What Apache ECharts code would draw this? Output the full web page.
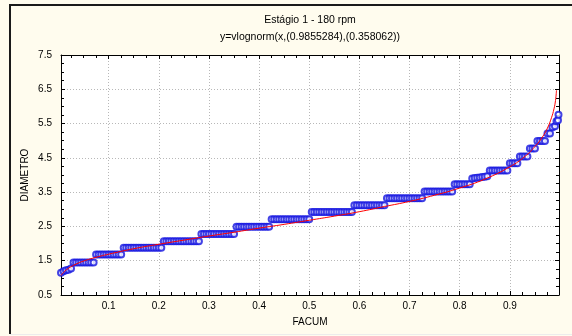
<!DOCTYPE html>
<html>
<head>
<meta charset="utf-8">
<script src="https://cdn.jsdelivr.net/npm/echarts@6/dist/echarts.min.js"></script>
<style>
  html, body { margin: 0; padding: 0; background: #fffcee; }
  #chart { width: 572px; height: 336px; }
</style>
</head>
<body>
<div id="chart"></div>
<script>
// Sorted particle diameters against cumulative frequency (FACUM)
const facum = [
  0.005, 0.010, 0.015, 0.020, 0.025,
  0.030, 0.035, 0.040, 0.045, 0.050, 0.055, 0.060, 0.065, 0.070,
  0.075, 0.080, 0.085, 0.090, 0.095, 0.100, 0.105, 0.110, 0.115, 0.120, 0.125,
  0.130, 0.135, 0.140, 0.145, 0.150, 0.155, 0.160, 0.165, 0.170, 0.175, 0.180, 0.185, 0.190, 0.195, 0.200, 0.205,
  0.210, 0.215, 0.220, 0.225, 0.230, 0.235, 0.240, 0.245, 0.250, 0.255, 0.260, 0.265, 0.270, 0.275, 0.280,
  0.285, 0.290, 0.295, 0.300, 0.305, 0.310, 0.315, 0.320, 0.325, 0.330, 0.335, 0.340, 0.345, 0.350,
  0.355, 0.360, 0.365, 0.370, 0.375, 0.380, 0.385, 0.390, 0.395, 0.400, 0.405, 0.410, 0.415, 0.420,
  0.425, 0.430, 0.435, 0.440, 0.445, 0.450, 0.455, 0.460, 0.465, 0.470, 0.475, 0.480, 0.485, 0.490, 0.495, 0.500,
  0.505, 0.510, 0.515, 0.520, 0.525, 0.530, 0.535, 0.540, 0.545, 0.550, 0.555, 0.560, 0.565, 0.570, 0.575, 0.580, 0.585,
  0.590, 0.595, 0.600, 0.605, 0.610, 0.615, 0.620, 0.625, 0.630, 0.635, 0.640, 0.645, 0.650,
  0.655, 0.660, 0.665, 0.670, 0.675, 0.680, 0.685, 0.690, 0.695, 0.700, 0.705, 0.710, 0.715, 0.720, 0.725,
  0.730, 0.735, 0.740, 0.745, 0.750, 0.755, 0.760, 0.765, 0.770, 0.775, 0.780, 0.785,
  0.790, 0.795, 0.800, 0.805, 0.810, 0.815, 0.820,
  0.825, 0.830, 0.835, 0.840, 0.845, 0.850, 0.855,
  0.860, 0.865, 0.870, 0.875, 0.880, 0.885, 0.890, 0.895,
  0.900, 0.905, 0.910, 0.915,
  0.920, 0.925, 0.930, 0.935,
  0.940, 0.945, 0.950,
  0.955, 0.960, 0.965, 0.970,
  0.975, 0.980,
  0.985, 0.990,
  0.993, 0.996, 0.997
];
const diametro = [
  1.15, 1.19, 1.22, 1.24, 1.27,
  1.45, 1.45, 1.45, 1.45, 1.45, 1.45, 1.45, 1.45, 1.45,
  1.68, 1.68, 1.68, 1.68, 1.68, 1.68, 1.68, 1.68, 1.68, 1.68, 1.68,
  1.88, 1.88, 1.88, 1.88, 1.88, 1.88, 1.88, 1.88, 1.88, 1.88, 1.88, 1.88, 1.88, 1.88, 1.88, 1.88,
  2.07, 2.07, 2.07, 2.07, 2.07, 2.07, 2.07, 2.07, 2.07, 2.07, 2.07, 2.07, 2.07, 2.07, 2.07,
  2.28, 2.28, 2.28, 2.28, 2.28, 2.28, 2.28, 2.28, 2.28, 2.28, 2.28, 2.28, 2.28, 2.28,
  2.49, 2.49, 2.49, 2.49, 2.49, 2.49, 2.49, 2.49, 2.49, 2.49, 2.49, 2.49, 2.49, 2.49,
  2.71, 2.71, 2.71, 2.71, 2.71, 2.71, 2.71, 2.71, 2.71, 2.71, 2.71, 2.71, 2.71, 2.71, 2.71, 2.71,
  2.92, 2.92, 2.92, 2.92, 2.92, 2.92, 2.92, 2.92, 2.92, 2.92, 2.92, 2.92, 2.92, 2.92, 2.92, 2.92, 2.92,
  3.12, 3.12, 3.12, 3.12, 3.12, 3.12, 3.12, 3.12, 3.12, 3.12, 3.12, 3.12, 3.12,
  3.32, 3.32, 3.32, 3.32, 3.32, 3.32, 3.32, 3.32, 3.32, 3.32, 3.32, 3.32, 3.32, 3.32, 3.32,
  3.52, 3.52, 3.52, 3.52, 3.52, 3.52, 3.52, 3.52, 3.52, 3.52, 3.52, 3.52,
  3.73, 3.73, 3.73, 3.73, 3.73, 3.73, 3.73,
  3.90, 3.91, 3.92, 3.93, 3.94, 3.95, 3.96,
  4.13, 4.13, 4.13, 4.13, 4.13, 4.13, 4.13, 4.13,
  4.34, 4.34, 4.34, 4.34,
  4.54, 4.54, 4.54, 4.54,
  4.77, 4.77, 4.77,
  4.99, 4.99, 4.99, 4.99,
  5.21, 5.21,
  5.39, 5.42,
  5.57, 5.60, 5.76
];

// Fitted lognormal quantile curve: y = vlognorm(x, 0.9855284, 0.358062)
const curveX = [0.005, 0.01, 0.02, 0.035, 0.05, 0.075, 0.1, 0.15, 0.2, 0.25, 0.3, 0.35, 0.4, 0.45, 0.5,
                0.55, 0.6, 0.65, 0.7, 0.75, 0.8, 0.85, 0.9, 0.93, 0.95, 0.965, 0.975, 0.983, 0.988, 0.991, 0.993];
const curveY = [1.07, 1.16, 1.28, 1.40, 1.49, 1.60, 1.69, 1.85, 1.98, 2.10, 2.22, 2.33, 2.45, 2.56, 2.68,
                2.80, 2.93, 3.08, 3.23, 3.41, 3.62, 3.88, 4.24, 4.54, 4.83, 5.11, 5.37, 5.67, 5.93, 6.17, 6.47];

// Chart text
const titleText = 'Estágio 1 - 180 rpm';
const subtitleText = 'y=vlognorm(x,(0.9855284),(0.358062))';
const xName = 'FACUM';
const yName = 'DIAMETRO';

// Axis settings
const xMin = 0.005, xMax = 0.998;
const yMin = 0.5, yMax = 7.5, yStep = 1;

const FONT = '"Liberation Sans", Arial, sans-serif';
const W = 572, H = 336;
const grid = { left: 61, right: 13, top: 55, bottom: 41 };
const plotCenterX = grid.left + (W - grid.left - grid.right) / 2;

const scatterData = facum.map((x, i) => [x, diametro[i]]);
const curveData = curveX.map((x, i) => [x, curveY[i]]);

const tickCommon = {
  show: true, inside: true, length: 4,
  lineStyle: { color: '#000', width: 1 }
};
const minorCommon = {
  show: true, splitNumber: 4, length: 3,
  lineStyle: { color: '#000', width: 1 }
};
const lineCommon = { show: true, onZero: false, lineStyle: { color: '#000', width: 1 } };
const gridLine = { show: true, lineStyle: { color: '#b8b8b8', type: [1, 2], width: 1 } };

const chart = echarts.init(document.getElementById('chart'), null, { renderer: 'canvas' });
chart.setOption({
  backgroundColor: '#fffcee',
  animation: false,
  graphic: [
    // window frame: dark top/left edge, light bottom edge
    { type: 'line', silent: true, z: 10, shape: { x1: 10, y1: 5, x2: W, y2: 5 },
      style: { stroke: '#1a1a1a', lineWidth: 2 } },
    { type: 'line', silent: true, z: 10, shape: { x1: 10, y1: 4, x2: 10, y2: H - 2 },
      style: { stroke: '#1a1a1a', lineWidth: 2 } },
    { type: 'line', silent: true, z: 10, shape: { x1: 10, y1: H - 1.5, x2: W, y2: H - 1.5 },
      style: { stroke: '#ececec', lineWidth: 1 } },
    // titles centred over the plot area
    { type: 'text', silent: true, x: plotCenterX, y: 20,
      style: { text: titleText, align: 'center', verticalAlign: 'middle',
               font: '10.5px ' + FONT, fill: '#000' } },
    { type: 'text', silent: true, x: plotCenterX, y: 37,
      style: { text: subtitleText, align: 'center', verticalAlign: 'middle',
               font: '10.5px ' + FONT, fill: '#000' } }
  ],
  grid: {
    left: grid.left, right: grid.right, top: grid.top, bottom: grid.bottom,
    show: true, backgroundColor: '#ffffff', borderWidth: 0
  },
  xAxis: [
    {
      type: 'value', min: xMin, max: xMax, splitNumber: 10, position: 'bottom',
      name: xName, nameLocation: 'middle', nameGap: 22, nameMoveOverlap: false,
      nameTextStyle: { fontFamily: FONT, fontSize: 10, color: '#000' },
      axisLine: lineCommon, axisTick: tickCommon, minorTick: minorCommon,
      splitLine: gridLine,
      axisLabel: {
        fontFamily: FONT, fontSize: 10, color: '#000', margin: 6,
        showMinLabel: false, showMaxLabel: false
      }
    },
    {
      type: 'value', min: xMin, max: xMax, splitNumber: 10, position: 'top',
      axisLine: lineCommon, axisTick: tickCommon, minorTick: minorCommon,
      splitLine: { show: false }, axisLabel: { show: false }
    }
  ],
  yAxis: [
    {
      type: 'value', min: yMin, max: yMax, interval: yStep, position: 'left',
      name: yName, nameLocation: 'middle', nameGap: 31, nameRotate: 90, nameMoveOverlap: false,
      nameTextStyle: { fontFamily: FONT, fontSize: 10, color: '#000' },
      axisLine: lineCommon, axisTick: tickCommon, minorTick: minorCommon,
      splitLine: gridLine,
      axisLabel: {
        fontFamily: FONT, fontSize: 10, color: '#000', margin: 9,
        formatter: v => v.toFixed(1)
      }
    },
    {
      type: 'value', min: yMin, max: yMax, interval: yStep, position: 'right',
      axisLine: lineCommon, axisTick: tickCommon, minorTick: minorCommon,
      splitLine: { show: false }, axisLabel: { show: false }
    }
  ],
  series: [
    {
      type: 'scatter', xAxisIndex: 0, yAxisIndex: 0,
      data: scatterData,
      symbol: 'emptyCircle', symbolSize: 6,
      itemStyle: { color: '#1414e0', borderColor: '#1414e0', borderWidth: 1.5 },
      z: 2
    },
    {
      type: 'line', xAxisIndex: 0, yAxisIndex: 0,
      data: curveData, smooth: true, showSymbol: false,
      lineStyle: { color: '#ff0000', width: 1 },
      z: 3
    }
  ]
});
</script>
</body>
</html>
